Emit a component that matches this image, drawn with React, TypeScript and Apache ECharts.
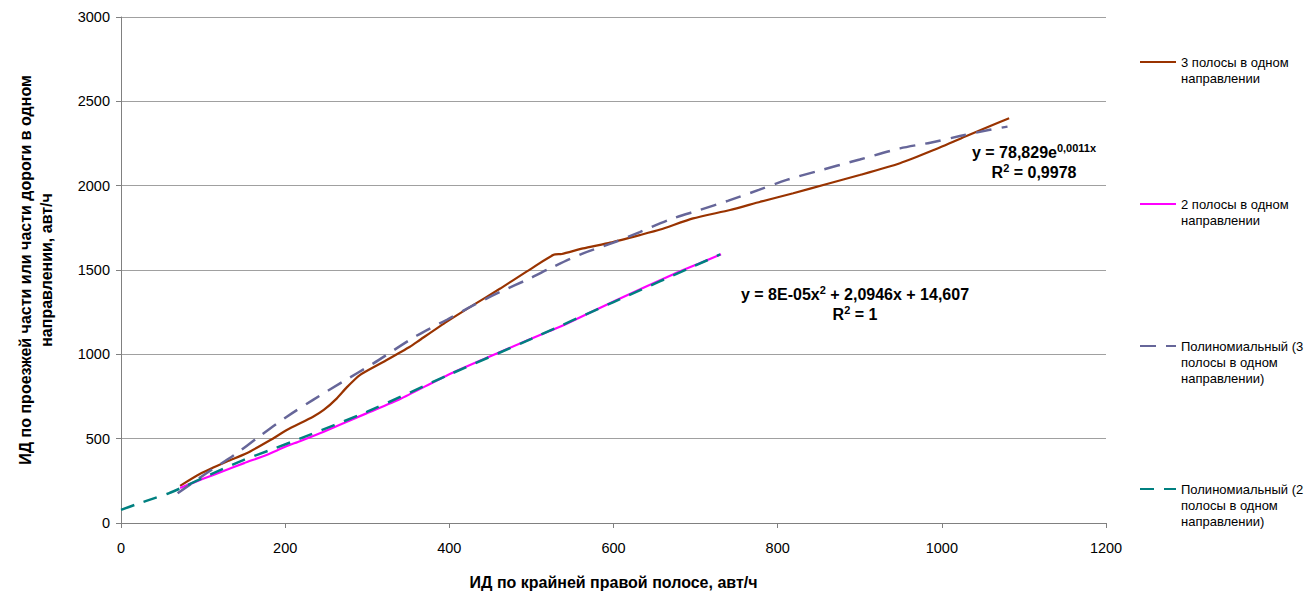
import React, { useEffect, useRef } from "react";
import * as echarts from "echarts";

// Series 1: 3 lanes in one direction
const lanes3X = [72, 96, 129, 153, 182, 202, 234, 247, 263, 275, 291, 320, 352, 364, 397, 429, 462, 494, 527, 537, 563, 596, 632, 657, 697, 742, 779, 819, 860, 900, 949, 990, 1030, 1059, 1082];
const lanes3Y = [220, 290, 364, 413, 492, 551, 630, 670, 739, 804, 877, 956, 1045, 1085, 1194, 1292, 1390, 1490, 1590, 1595, 1628, 1662, 1707, 1740, 1806, 1856, 1905, 1955, 2010, 2063, 2133, 2211, 2294, 2354, 2400];

// Series 2: 2 lanes in one direction
const lanes2X = [72, 100, 125, 150, 178, 200, 218, 247, 299, 340, 397, 445, 496, 522, 543, 604, 673, 705, 731];
const lanes2Y = [208, 262, 308, 355, 405, 452, 485, 541, 650, 735, 875, 978, 1085, 1138, 1182, 1322, 1475, 1540, 1593];

// Trend line for 3 lanes
const trend3X = [69, 104, 137, 169, 202, 234, 271, 307, 360, 397, 429, 462, 498, 527, 563, 600, 632, 669, 705, 740, 777, 811, 846, 900, 949, 986, 1022, 1057, 1080];
const trend3Y = [176, 295, 400, 515, 630, 730, 840, 945, 1110, 1205, 1290, 1370, 1450, 1520, 1599, 1662, 1725, 1800, 1856, 1911, 1975, 2034, 2083, 2155, 2221, 2255, 2294, 2330, 2350];

// Trend line for 2 lanes
const trend2X = [0, 20, 40, 58, 72, 108, 149, 186, 218, 300, 400, 500, 600, 730];
const trend2Y = [78, 113, 146, 176, 205, 285, 373, 440, 500, 660, 880, 1092, 1310, 1592];

const xTicks = { min: 0, max: 1200, interval: 200 };
const yTicks = { min: 0, max: 3000, interval: 500 };

const names = [
  "3 полосы в одном направлении",
  "2 полосы в одном направлении",
  "Полиномиальный (3 полосы в одном направлении)",
  "Полиномиальный (2 полосы в одном направлении)",
];
const legendLabels = [
  "3 полосы в одном\nнаправлении",
  "2 полосы в одном\nнаправлении",
  "Полиномиальный (3\nполосы в одном\nнаправлении)",
  "Полиномиальный (2\nполосы в одном\nнаправлении)",
];
const colors = ["#993300", "#ff00ff", "#666699", "#008080"];

const xName = "ИД по крайней правой полосе, авт/ч";
const yName = "ИД по проезжей части или части дороги в одном\nнаправлении, авт/ч";

const zip = (xs: number[], ys: number[]) => xs.map((x, i) => [x, ys[i]]);

const FONT = "Arial, 'Liberation Sans', sans-serif";

export default function App() {
  const ref = useRef<HTMLDivElement>(null);
  useEffect(() => {
    if (!ref.current) return;
    const chart = echarts.init(ref.current, undefined, { renderer: "svg" });
    const lh = 16;
    const iconYs = [62, 204, 346, 489];
    const legends = names.map((n, i) => {
      const lines = legendLabels[i].split("\n").length;
      const blank = lines - 1;
      const blockH = (lines + blank) * lh;
      return {
        data: [n],
        orient: "vertical",
        left: 1139,
        top: iconYs[i] - blockH / 2,
        padding: 0,
        itemWidth: 36,
        itemHeight: 14,
        itemGap: 0,
        selectedMode: false,
        itemStyle: { color: "transparent", borderColor: "transparent", borderWidth: 0, opacity: 0 },
        formatter: () => "\n".repeat(blank) + legendLabels[i],
        textStyle: {
          fontFamily: FONT,
          fontSize: 13,
          color: "#000",
          lineHeight: lh,
        },
      };
    });

    const rich = {
      b: { fontFamily: FONT, fontSize: 16, fontWeight: "bold", color: "#000", lineHeight: 20 },
      s: { fontFamily: FONT, fontSize: 11, fontWeight: "bold", color: "#000", lineHeight: 20, verticalAlign: "top" },
    };

    chart.setOption({
      animation: false,
      backgroundColor: "#fff",
      grid: { left: 121, right: 203, top: 17, bottom: 74, containLabel: false, outerBoundsMode: "none" },
      legend: legends,
      xAxis: {
        type: "value",
        min: xTicks.min,
        max: xTicks.max,
        interval: xTicks.interval,
        name: xName,
        nameLocation: "middle",
        nameGap: 51,
        nameTextStyle: { fontFamily: FONT, fontSize: 16, fontWeight: "bold", color: "#000" },
        axisLine: { show: true, lineStyle: { color: "#808080", width: 1 } },
        axisTick: { show: true, inside: false, length: 5, lineStyle: { color: "#808080" } },
        axisLabel: { fontFamily: FONT, fontSize: 14.5, color: "#000", margin: 17, formatter: (v: number) => String(v) },
        splitLine: { show: false },
      },
      yAxis: {
        type: "value",
        min: yTicks.min,
        max: yTicks.max,
        interval: yTicks.interval,
        name: yName,
        nameLocation: "middle",
        nameGap: 64,
        nameTextStyle: { fontFamily: FONT, fontSize: 16, fontWeight: "bold", color: "#000", lineHeight: 21 },
        axisLine: { show: true, lineStyle: { color: "#808080", width: 1 } },
        axisTick: { show: true, inside: false, length: 5, lineStyle: { color: "#808080" } },
        axisLabel: { fontFamily: FONT, fontSize: 14.5, color: "#000", margin: 11, formatter: (v: number) => String(v) },
        splitLine: { show: true, lineStyle: { color: "#a0a0a0", width: 1 } },
      },
      series: [
        {
          name: names[0],
          type: "line",
          data: zip(lanes3X, lanes3Y),
          symbol: "none",
          smooth: 0.2,
          lineStyle: { color: colors[0], width: 2.2 },
          itemStyle: { color: colors[0] },
        },
        {
          name: names[1],
          type: "line",
          data: zip(lanes2X, lanes2Y),
          symbol: "none",
          smooth: 0.2,
          lineStyle: { color: colors[1], width: 2.2 },
          itemStyle: { color: colors[1] },
        },
        {
          name: names[2],
          type: "line",
          data: zip(trend3X, trend3Y),
          symbol: "none",
          smooth: 0.3,
          lineStyle: { color: colors[2], width: 2.5, type: [16, 10] },
          itemStyle: { color: colors[2] },
        },
        {
          name: names[3],
          type: "line",
          data: zip(trend2X, trend2Y),
          symbol: "none",
          smooth: 0.3,
          lineStyle: { color: colors[3], width: 2.5, type: [14, 10] },
          itemStyle: { color: colors[3] },
        },
      ],
      graphic: [
        {
          type: "text",
          x: 1034,
          y: 162,
          style: {
            text: "{b|y = 78,829e}{s|0,0011x}\n{b|R}{s|2}{b| = 0,9978}",
            rich,
            align: "center",
            verticalAlign: "middle",
          },
        },
        {
          type: "text",
          x: 855,
          y: 304,
          style: {
            text: "{b|y = 8E-05x}{s|2}{b| + 2,0946x + 14,607}\n{b|R}{s|2}{b| = 1}",
            rich,
            align: "center",
            verticalAlign: "middle",
          },
        },
      ],
    });
    return () => chart.dispose();
  }, []);
  return (
    <div
      ref={ref}
      style={{ position: "fixed", left: 0, top: 0, width: 1309, height: 597 }}
    />
  );
}
